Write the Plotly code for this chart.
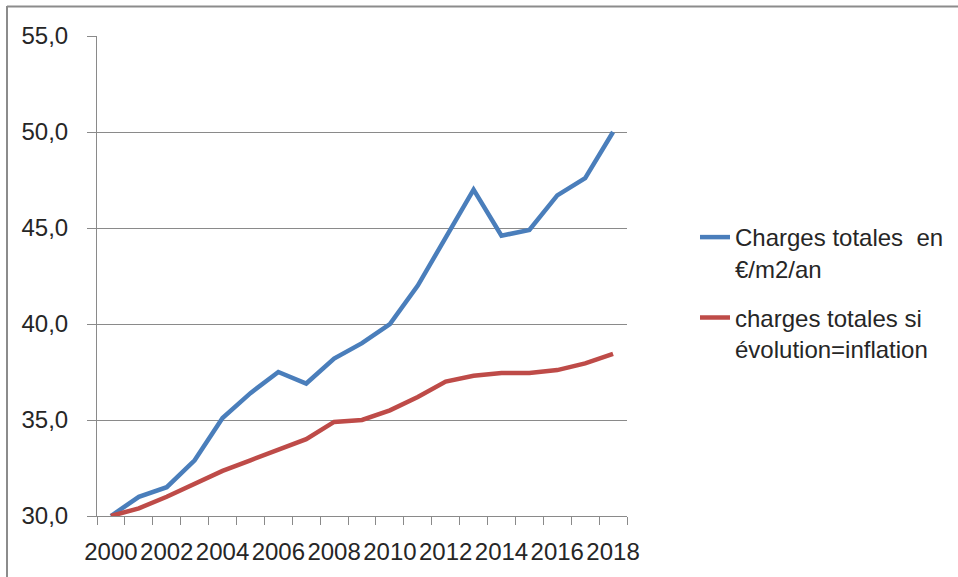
import plotly.graph_objects as go

years = list(range(2000, 2019))
charges_totales = [30.0, 31.0, 31.5, 32.9, 35.1, 36.4, 37.5, 36.9, 38.2, 39.0,
                   40.0, 42.0, 44.5, 47.0, 44.6, 44.9, 46.7, 47.6, 50.0]
charges_inflation = [30.0, 30.4, 31.0, 31.7, 32.35, 32.9, 33.45, 34.0, 34.9, 35.0,
                     35.5, 36.2, 37.0, 37.3, 37.45, 37.45, 37.6, 37.95, 38.45]
name_totales = "Charges totales\u00a0\u00a0en<br>€/m2/an"
name_inflation = "charges totales si<br>évolution=inflation"
x_tick_labels = [str(y) for y in years[::2]]
y_ticks = [30, 35, 40, 45, 50, 55]

BLUE = "#4A7EBB"
RED = "#BE4B48"
GRID = "#8A8A8A"
TEXT = "#262626"
FONT = "Liberation Sans, Arial, sans-serif"

W, H = 958, 577
L, R, T, B = 97, 331, 36, 61

fig = go.Figure()
fig.add_trace(go.Scatter(x=years, y=charges_totales, mode="lines", name=name_totales,
                         legendgroup="a", line=dict(color=BLUE, width=4.5)))
fig.add_trace(go.Scatter(x=years, y=charges_inflation, mode="lines", name=name_inflation,
                         legendgroup="b", line=dict(color=RED, width=4.5)))

fig.update_layout(
    width=W, height=H,
    margin=dict(l=L, r=R, t=T, b=B, pad=0, autoexpand=False),
    paper_bgcolor="white", plot_bgcolor="white",
    separators=", ",
    font=dict(family=FONT, size=24, color=TEXT),
    legend=dict(x=(695 - L) / (W - L - R), xanchor="left",
                y=(H - B - 215) / (H - T - B), yanchor="top",
                valign="top", tracegroupgap=15,
                font=dict(family=FONT, size=24, color=TEXT),
                bgcolor="rgba(0,0,0,0)"),
    showlegend=True,
)

fig.update_xaxes(
    range=[1999.5, 2018.5], automargin=False,
    tickmode="array", tickvals=years[::2], ticktext=x_tick_labels,
    ticks="", ticklabelstandoff=14,
    showline=True, linecolor=GRID, linewidth=1,
    showgrid=False, zeroline=False,
    minor=dict(tickmode="linear", tick0=1999.5, dtick=1, ticks="outside",
               ticklen=8, tickcolor=GRID, tickwidth=1, showgrid=False),
    tickfont=dict(family=FONT, size=24, color=TEXT),
)
fig.update_yaxes(
    range=[30, 55], automargin=False,
    tickmode="array", tickvals=y_ticks, tickformat=".1f",
    ticks="outside", ticklen=9, tickcolor=GRID, tickwidth=1,
    ticklabelstandoff=14,
    showline=True, linecolor=GRID, linewidth=1,
    showgrid=True, gridcolor=GRID, gridwidth=1, zeroline=False,
    tickfont=dict(family=FONT, size=24, color=TEXT),
)

# chart-area border (top and left edges visible in the reference)
fig.add_shape(type="line", xref="paper", yref="paper",
              x0=(7 - L) / (W - L - R), x1=(W + 5 - L) / (W - L - R),
              y0=(H - B - 6.5) / (H - T - B), y1=(H - B - 6.5) / (H - T - B),
              line=dict(color="#8C8C8C", width=2))
fig.add_shape(type="line", xref="paper", yref="paper",
              x0=(7 - L) / (W - L - R), x1=(7 - L) / (W - L - R),
              y0=(H - B - 6) / (H - T - B), y1=(H - B - H - 5) / (H - T - B),
              line=dict(color="#8C8C8C", width=2))

fig.write_html("out.html")
